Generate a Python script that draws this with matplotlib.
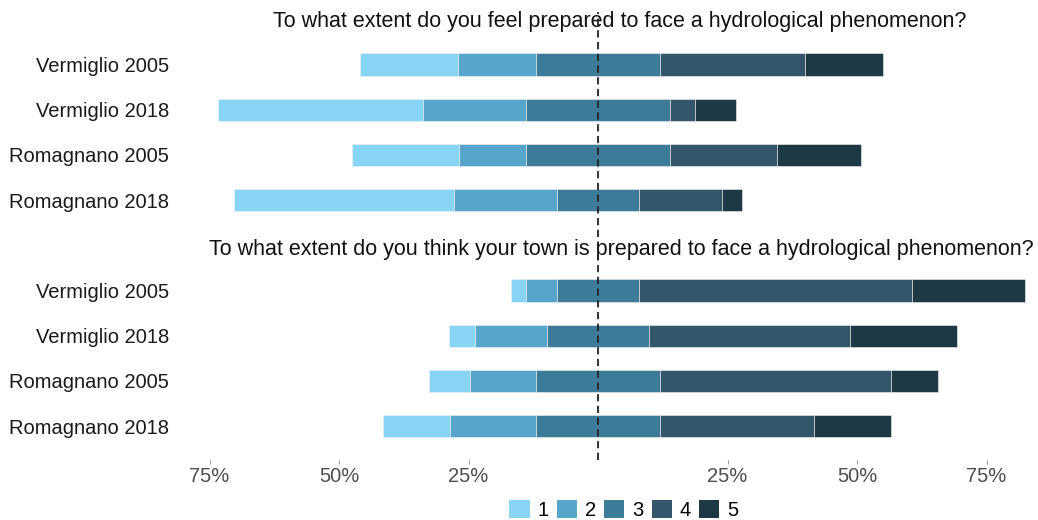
import numpy as np
import matplotlib
matplotlib.use('Agg')
import matplotlib.pyplot as plt
from matplotlib.patches import Patch

plt.rcParams['font.family'] = ['Liberation Sans', 'DejaVu Sans']

# Survey groups (top to bottom inside each question)
groups = ['Vermiglio 2005', 'Vermiglio 2018', 'Romagnano 2005', 'Romagnano 2018']
levels = ['1', '2', '3', '4', '5']

question_self = 'To what extent do you feel prepared to face a hydrological phenomenon?'
question_town = 'To what extent do you think your town is prepared to face a hydrological phenomenon?'

# Percent of answers per level (1..5) for each group
self_pct = [
    [19.0, 15.0, 24.0, 28.0, 15.0],
    [39.6, 19.8, 27.8, 4.8, 8.0],
    [20.7, 12.9, 27.8, 20.7, 16.1],
    [42.6, 19.8, 15.9, 15.9, 4.0],
]
town_pct = [
    [3.0, 5.9, 15.9, 52.6, 21.8],
    [4.9, 13.9, 19.8, 38.7, 20.8],
    [7.9, 12.8, 23.9, 44.7, 8.9],
    [12.9, 16.7, 23.9, 29.8, 14.9],
]

tick_values = [-75, -50, -25, 25, 50, 75]
tick_labels = ['75%', '50%', '25%', '25%', '50%', '75%']

colors = ['#87D4F5', '#56A6CC', '#3D7C99', '#34566B', '#1C3944']

W, H = 1038, 520
fig = plt.figure(figsize=(W / 100, H / 100), dpi=100)
ax = fig.add_axes([180 / W, 1 - 460 / H, 850 / W, 448 / H])

# y positions: one empty slot between the two questions for the second title
y_self = np.arange(4)
y_town = np.arange(4) + 5


def draw_block(ax, data, ypos):
    data = np.array(data)
    # neutral answers are split around zero
    start = -(data[:, 0] + data[:, 1] + data[:, 2] / 2)
    left = start.copy()
    for j in range(len(levels)):
        ax.barh(ypos, data[:, j], left=left, height=0.49,
                color=colors[j], edgecolor='#f2f2f2', linewidth=0.4, zorder=2)
        left = left + data[:, j]


draw_block(ax, self_pct, y_self)
draw_block(ax, town_pct, y_town)

ax.axvline(0, color='#222222', linestyle=(0, (4, 2.5)), linewidth=1.3, zorder=4)

ax.set_xlim((180 - 598) / 5.18, (1030 - 598) / 5.18)
ax.set_ylim(8.75, -1.16)

ax.set_yticks(list(y_self) + list(y_town))
ax.set_yticklabels(groups + groups, fontsize=14.5, color='#1a1a1a')
ax.tick_params(axis='y', length=0, pad=8)

ax.set_xticks(tick_values)
ax.set_xticklabels(tick_labels, fontsize=14.5, color='#4d4d4d')
ax.tick_params(axis='x', length=3, width=0.8, color='#999999', pad=2)

for s in ax.spines.values():
    s.set_visible(False)

# question titles
tx = ax.get_yaxis_transform()
ax.text((620 - 180) / 850, -0.94, question_self, transform=tx, ha='center', va='center',
        fontsize=15.5, color='#111111', zorder=1)
ax.text((621 - 180) / 850, 4.09, question_town, transform=tx, ha='center', va='center',
        fontsize=15.5, color='#111111', zorder=1)

handles = [Patch(facecolor=c, edgecolor='none') for c in colors]
fig.legend(handles, levels, loc='center', bbox_to_anchor=(624 / W, 1 - 510 / H),
           ncol=5, frameon=False, fontsize=14.5, handlelength=1.0, handleheight=1.0,
           handletextpad=0.4, columnspacing=0.4, borderaxespad=0)

fig.savefig('out.png', dpi=100)
